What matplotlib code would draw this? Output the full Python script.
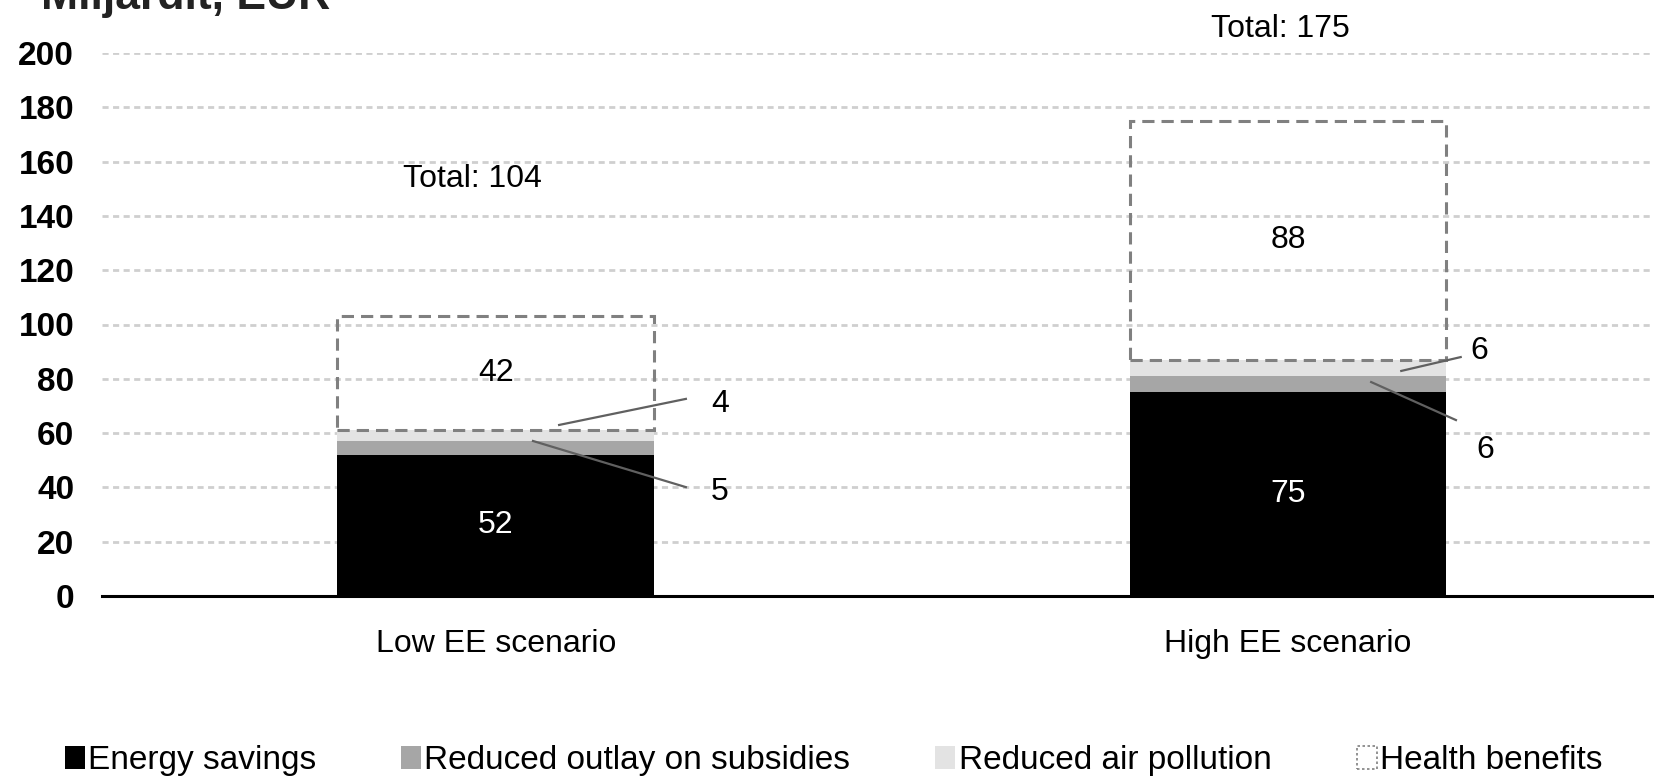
import matplotlib.pyplot as plt
from matplotlib.patches import Patch
import numpy as np

plt.rcParams['font.family'] = ['Liberation Sans', 'DejaVu Sans']

# data
scenarios = ["Low EE scenario", "High EE scenario"]
energy_savings = [52, 75]
subsidies = [5, 6]
air_pollution = [4, 6]
health = [42, 88]
totals = [104, 175]
series_names = ["Energy savings", "Reduced outlay on subsidies",
                "Reduced air pollution", "Health benefits"]

# layout for labels (data coords, relative to bar centre)
total_label_y = [153.5, 209]
total_label_dx = [-0.03, -0.01]
# leader lines: (x0, y0, x1, y1, label x, label y)
sub_leaders = [(0.047, 57.1, 0.240, 40.1, 0.283, 38.3),
               (0.105, 78.8, 0.212, 64.8, 0.249, 53.8)]
air_leaders = [(0.080, 63.0, 0.240, 72.6, 0.283, 70.7),
               (0.143, 82.9, 0.218, 88.0, 0.242, 90.2)]

c_energy = "#000000"
c_sub = "#a6a6a6"
c_air = "#e3e3e3"
c_edge = "#808080"

fig = plt.figure(figsize=(16.54, 7.77), dpi=100)
ax = fig.add_axes([102 / 1654, 1 - 596 / 777, 1 - 102 / 1654, (596 - 53) / 777])

x = np.arange(len(scenarios))
w = 0.4
e = np.array(energy_savings)
s = np.array(subsidies)
a = np.array(air_pollution)
h = np.array(health)

ax.bar(x, e, w, color=c_energy, zorder=3)
ax.bar(x, s, w, bottom=e, color=c_sub, zorder=3)
ax.bar(x, a, w, bottom=e + s, color=c_air, zorder=3)
ax.bar(x, h, w, bottom=e + s + a, facecolor="none", edgecolor=c_edge,
       linewidth=2.2, linestyle=(0, (4, 2.3)), zorder=3)

fs = 23
for i in range(len(x)):
    ax.text(x[i], e[i] / 2, str(e[i]), ha="center", va="center",
            color="white", fontsize=fs, zorder=5)
    ax.text(x[i], e[i] + s[i] + a[i] + h[i] / 2, str(h[i]), ha="center",
            va="center", color="black", fontsize=fs, zorder=5)
    ax.text(x[i] + total_label_dx[i], total_label_y[i], "Total: %d" % totals[i],
            ha="center", va="center", fontsize=fs, clip_on=False, zorder=5)
    for lead, val in ((sub_leaders[i], s[i]), (air_leaders[i], a[i])):
        x0, y0, x1, y1, lx, ly = lead
        ax.plot([x[i] + x0, x[i] + x1], [y0, y1], color="#606060", lw=1.6,
                zorder=4, clip_on=False)
        ax.text(x[i] + lx, ly, str(val), ha="center", va="center",
                fontsize=fs, zorder=5)

ax.set_xlim(-0.497, 1.462)
ax.set_ylim(0, 200)
ax.set_yticks(np.arange(0, 201, 20))
ax.set_xticks(x)
ax.set_xticklabels(scenarios, fontsize=fs)
for lab in ax.get_yticklabels():
    lab.set_fontsize(24)
    lab.set_fontweight("bold")
ax.tick_params(axis="y", length=0, pad=20)
ax.tick_params(axis="x", length=0, pad=24)

ax.yaxis.grid(True, color="#cfcfcf", linewidth=2.0, linestyle=(0, (2.2, 1.6)), zorder=0)
ax.set_axisbelow(True)
for side in ["left", "right", "top"]:
    ax.spines[side].set_visible(False)
ax.spines["bottom"].set_linewidth(2.2)
ax.spines["bottom"].set_zorder(6)

fig.text(330 / 1654, 1 - 9 / 777, "Miljardit, EUR", ha="right", va="baseline",
         fontsize=32, fontweight="bold", color="#222222")

handles = [Patch(facecolor=c_energy), Patch(facecolor=c_sub), Patch(facecolor=c_air),
           Patch(facecolor="white", edgecolor=c_edge, linestyle=(0, (1.5, 1.5)), linewidth=1.2)]
fig.legend(handles, series_names, loc="center left", bbox_to_anchor=(0.039, 0.021),
           ncol=4, frameon=False, fontsize=24, handlelength=0.6, handleheight=0.7,
           handletextpad=0.1, columnspacing=2.55, borderpad=0, borderaxespad=0)

fig.savefig("out.png", dpi=100)
